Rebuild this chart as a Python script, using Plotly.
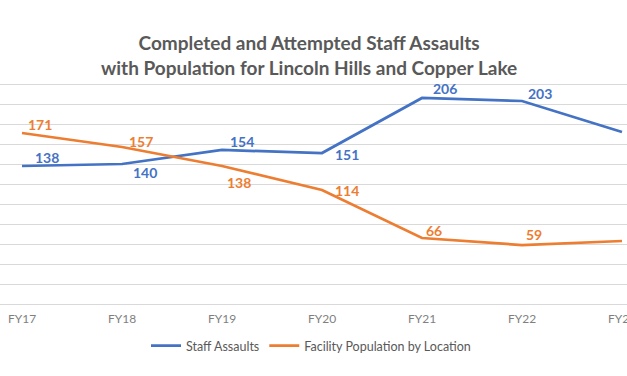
import plotly.graph_objects as go

categories = ["FY17", "FY18", "FY19", "FY20", "FY21", "FY22", "FY23"]
staff_assaults = [138, 140, 154, 151, 206, 203, 172]
facility_population = [171, 157, 138, 114, 66, 59, 63]
gridline_values = [0, 20, 40, 60, 80, 100, 120, 140, 160, 180, 200, 220]
labeled_points = 6  # last point's labels fall outside the visible frame

BLUE = "#4472C4"
ORANGE = "#ED7D31"
GRAY = "#595959"
FONT = "Lato"

# label offsets (style only)
blue_offsets = [(25, -9), (23, 8), (20, -9), (25, 1), (23, -10), (18, -8)]
orange_offsets = [(18, -9), (19, -6), (17, 16), (25, 0), (12, -8), (12, -11)]

fig = go.Figure()
fig.add_trace(go.Scatter(x=categories, y=staff_assaults, mode="lines",
                         name="Staff Assaults",
                         line=dict(color=BLUE, width=2.75)))
fig.add_trace(go.Scatter(x=categories, y=facility_population, mode="lines",
                         name="Facility Population by Location",
                         line=dict(color=ORANGE, width=2.75)))

annotations = []
for vals, offs, col in [(staff_assaults, blue_offsets, BLUE),
                        (facility_population, orange_offsets, ORANGE)]:
    for i in range(labeled_points):
        annotations.append(dict(
            x=categories[i], y=vals[i], text=f"<b>{vals[i]}</b>",
            showarrow=False, xshift=offs[i][0], yshift=-offs[i][1],
            font=dict(family=FONT, size=14, color=col)))

fig.update_layout(
    width=627, height=376,
    margin=dict(l=0, r=0, t=64, b=72, autoexpand=False),
    paper_bgcolor="white", plot_bgcolor="white",
    title=dict(text="<b>Completed and Attempted Staff Assaults<br>with Population for Lincoln Hills and Copper Lake</b>",
               x=0.493, xanchor="center", y=1 - 50 / 376, yanchor="middle",
               yref="container",
               font=dict(family=FONT, size=19, color=GRAY)),
    xaxis=dict(type="category", range=[-0.22, 6.05], showgrid=False,
               showline=False, ticks="", zeroline=False, automargin=False,
               tickfont=dict(family=FONT, size=12, color="#7f7f7f"),
               ticklabelstandoff=6),
    yaxis=dict(range=[0, 240], tickmode="array", tickvals=gridline_values,
               showticklabels=False, automargin=False,
               showgrid=True, gridcolor="#d9d9d9", gridwidth=1,
               zeroline=True, zerolinecolor="#d9d9d9", zerolinewidth=1,
               showline=False, ticks=""),
    legend=dict(orientation="h", x=0.496, xanchor="center",
                y=-0.175, yanchor="middle",
                font=dict(family=FONT, size=12.5, color=GRAY)),
    annotations=annotations,
)

fig.write_html("out.html", config={"displayModeBar": False},
               post_script="document.body.style.margin='0';document.body.style.overflow='hidden';")
